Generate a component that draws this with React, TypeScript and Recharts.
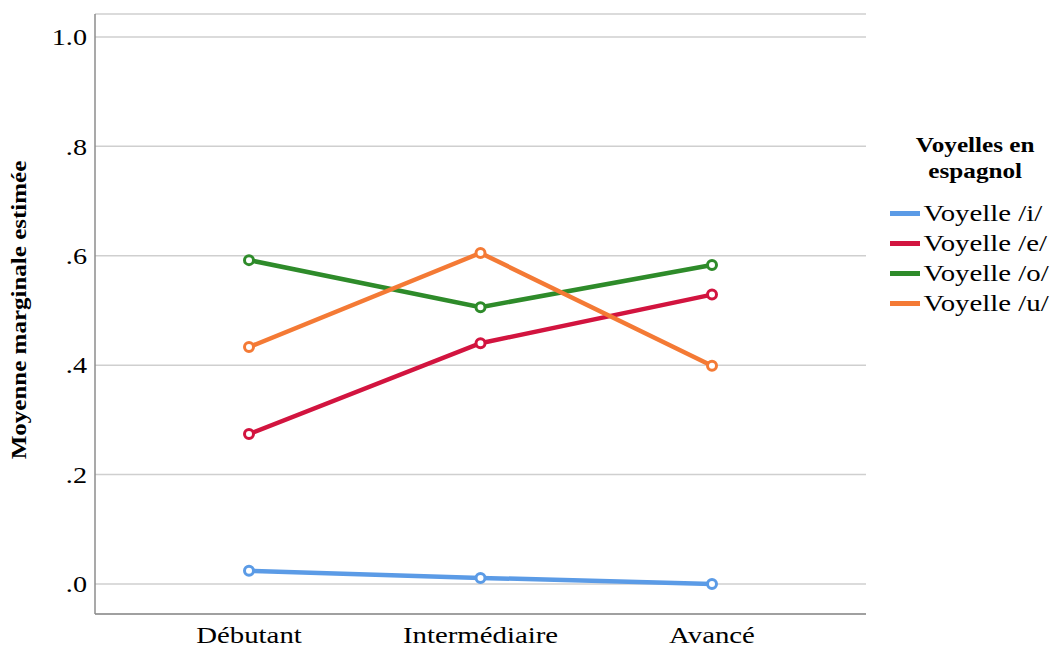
import { LineChart, Line, XAxis, YAxis, CartesianGrid } from "recharts";

const levels = ["Débutant", "Intermédiaire", "Avancé"];
const vowelI = [0.024, 0.011, 0.0];
const vowelE = [0.274, 0.44, 0.529];
const vowelO = [0.592, 0.506, 0.583];
const vowelU = [0.433, 0.605, 0.399];
const yTicks = [0, 0.2, 0.4, 0.6, 0.8, 1.0];

const series = [
  { key: "i", name: "Voyelle /i/", color: "#5b9be6" },
  { key: "e", name: "Voyelle /e/", color: "#d2143f" },
  { key: "o", name: "Voyelle /o/", color: "#2e8b2a" },
  { key: "u", name: "Voyelle /u/", color: "#f47a35" },
];

const data = levels.map((level, i) => ({
  level,
  i: vowelI[i],
  e: vowelE[i],
  o: vowelO[i],
  u: vowelU[i],
}));

const serif = "Liberation Serif";
// the original export is squashed vertically, so text runs wider than its height
const stretch = 1.2;

const formatTick = (v: number) => (v === 1 ? "1.0" : v.toFixed(1).replace(/^0/, ""));

function XTick(props: any) {
  const { x, y, payload } = props;
  return (
    <g transform={`translate(${x},${y})`}>
      <text transform={`scale(${stretch},1)`} textAnchor="middle" dy="0.71em" fontSize={24} fontFamily={serif} fill="#000">
        {payload.value}
      </text>
    </g>
  );
}

function YTick(props: any) {
  const { x, y, payload } = props;
  return (
    <g transform={`translate(${x},${y})`}>
      <text transform={`scale(${stretch},1)`} textAnchor="end" dy="0.35em" fontSize={23.5} fontFamily={serif} fill="#000">
        {formatTick(payload.value)}
      </text>
    </g>
  );
}

function LegendBox() {
  return (
    <div
      style={{
        position: "absolute",
        left: 890,
        top: 132,
        width: 145,
        fontFamily: serif,
        color: "#000",
        transform: `scaleX(${stretch})`,
        transformOrigin: "0 0",
      }}
    >
      <div
        style={{
          fontWeight: "bold",
          fontSize: 21,
          lineHeight: "26px",
          textAlign: "center",
          width: 142,
          marginBottom: 14,
        }}
      >
        Voyelles en
        <br />
        espagnol
      </div>
      {series.map((s) => (
        <div key={s.key} style={{ display: "flex", alignItems: "center", height: 30 }}>
          <div style={{ width: 25, height: 5, background: s.color, marginRight: 3 }} />
          <span style={{ fontSize: 24 }}>{s.name}</span>
        </div>
      ))}
    </div>
  );
}

export default function App() {
  return (
    <div
      style={{
        position: "absolute",
        left: 0,
        top: 0,
        width: 1060,
        height: 651,
        background: "#fff",
        fontFamily: serif,
      }}
    >
      <LineChart
        width={1060}
        height={651}
        data={data}
        margin={{ top: 14, right: 194, bottom: 0, left: 40 }}
      >
        <CartesianGrid horizontal vertical={false} stroke="#cfcfcf" strokeWidth={1.5} />
        <XAxis
          dataKey="level"
          padding={{ left: 154, right: 154 }}
          axisLine={{ stroke: "#8c8c8c", strokeWidth: 1.5 }}
          tickLine={false}
          tickSize={0}
          tickMargin={12}
          height={37}
          tick={<XTick />}
        />
        <YAxis
          domain={[-0.055, 1.042]}
          ticks={yTicks}
          width={55}
          axisLine={{ stroke: "#8c8c8c", strokeWidth: 1.5 }}
          tickLine={false}
          tickSize={0}
          tickMargin={8}
          tick={<YTick />}
          label={{
            content: () => (
              <text
                x={0}
                y={0}
                transform="translate(26, 310) scale(0.82,1) rotate(-90)"
                textAnchor="middle"
                fontFamily={serif}
                fontWeight="bold"
                fontSize={25}
                fill="#000"
              >
                Moyenne marginale estimée
              </text>
            ),
          }}
        />
        {series.map((s) => (
          <Line
            key={s.key}
            dataKey={s.key}
            name={s.name}
            stroke={s.color}
            strokeWidth={4.5}
            dot={{ r: 4.5, fill: "#fff", stroke: s.color, strokeWidth: 3 }}
            isAnimationActive={false}
          />
        ))}
      </LineChart>
      <LegendBox />
    </div>
  );
}
